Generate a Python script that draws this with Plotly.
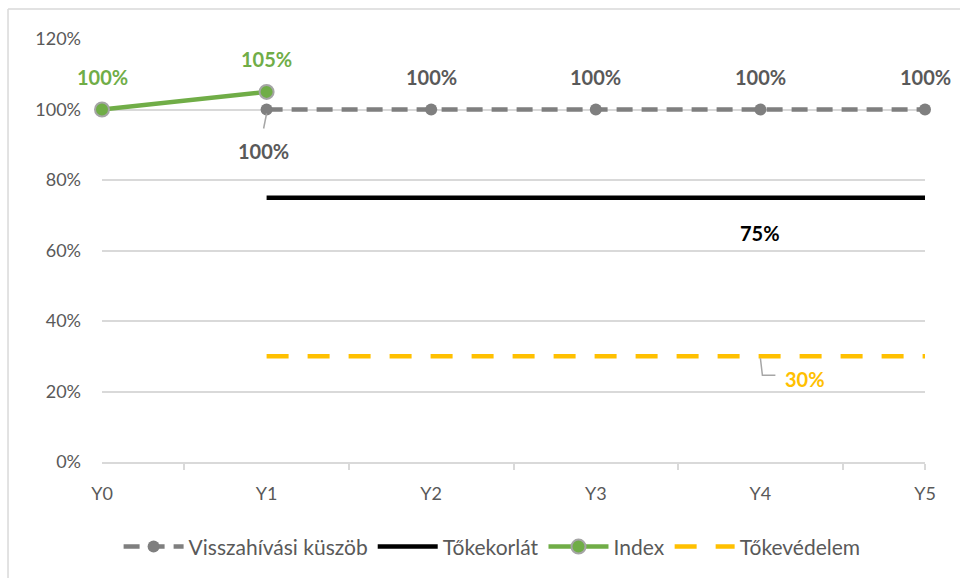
import plotly.graph_objects as go

categories = ["Y0", "Y1", "Y2", "Y3", "Y4", "Y5"]
x_pos = [0, 1, 2, 3, 4, 5]

visszahivasi = [None, 1.00, 1.00, 1.00, 1.00, 1.00]
tokekorlat = [None, 0.75, 0.75, 0.75, 0.75, 0.75]
index_vals = [1.00, 1.05, None, None, None, None]
tokevedelem = [None, 0.30, 0.30, 0.30, 0.30, 0.30]

GREY = "#7F7F7F"
GREEN = "#70AD47"
YELLOW = "#FFC000"
TXT = "#595959"
FONT = "Lato, Open Sans, sans-serif"

fig = go.Figure()
fig.add_trace(go.Scatter(
    x=x_pos, y=visszahivasi, name="Visszahívási küszöb", mode="lines+markers",
    line=dict(color=GREY, width=4.5, dash="16px,9px"),
    marker=dict(color=GREY, size=12, line=dict(width=0)), cliponaxis=False,
))
fig.add_trace(go.Scatter(
    x=x_pos, y=tokekorlat, name="Tőkekorlát", mode="lines",
    line=dict(color="#000000", width=4.5), cliponaxis=False,
))
fig.add_trace(go.Scatter(
    x=x_pos, y=index_vals, name="Index", mode="lines+markers",
    line=dict(color=GREEN, width=4.5),
    marker=dict(color=GREEN, size=14, line=dict(color="#A5A5A5", width=2)), cliponaxis=False,
))
fig.add_trace(go.Scatter(
    x=x_pos, y=tokevedelem, name="Tőkevédelem", mode="lines",
    line=dict(color=YELLOW, width=4.5, dash="22px,19px"), cliponaxis=False,
))

annotations = []
shapes = []


def lab(x, y, text, color, yshift, xshift=0):
    annotations.append(dict(
        x=x, y=y, xref="x", yref="y", text="<b>%s</b>" % text, showarrow=False,
        font=dict(family=FONT, size=20, color=color), yshift=yshift, xshift=xshift,
    ))


for i, v in enumerate(index_vals):
    if v is not None:
        lab(x_pos[i], v, "%d%%" % round(v * 100), GREEN, 33)

for i, v in enumerate(visszahivasi):
    if v is None:
        continue
    if i == 1:
        lab(x_pos[i], v, "%d%%" % round(v * 100), TXT, -41, -3)
        shapes.append(dict(type="line", xref="x", yref="y", xsizemode="pixel", ysizemode="pixel",
                           xanchor=x_pos[i], yanchor=v, x0=0, y0=-4, x1=-3, y1=-19,
                           line=dict(color="#A6A6A6", width=1.5)))
    else:
        lab(x_pos[i], v, "%d%%" % round(v * 100), TXT, 33)

lab(x_pos[4], tokekorlat[4], "%d%%" % round(tokekorlat[4] * 100), "#000000", -35)
lab(x_pos[4], tokevedelem[4], "%d%%" % round(tokevedelem[4] * 100), YELLOW, -23, 45)
shapes.append(dict(type="path", xref="x", yref="y", xsizemode="pixel", ysizemode="pixel",
                   xanchor=x_pos[4], yanchor=tokevedelem[4],
                   path="M 0,-2 L 2,-19 L 15,-19",
                   line=dict(color="#A6A6A6", width=1.5)))

# chart area border (top and left visible)
shapes.append(dict(type="line", xref="paper", yref="paper", x0=-0.1142, x1=-0.1142,
                   y0=1.0708, y1=-0.30, line=dict(color="#D9D9D9", width=1.5)))
shapes.append(dict(type="line", xref="paper", yref="paper", x0=-0.1142, x1=1.05,
                   y0=1.0708, y1=1.0708, line=dict(color="#D9D9D9", width=1.5)))

fig.update_layout(
    width=960, height=578,
    margin=dict(l=102, r=35, t=39, b=115),
    paper_bgcolor="white", plot_bgcolor="white",
    font=dict(family=FONT, size=18, color=TXT),
    showlegend=True,
    legend=dict(orientation="h", x=0.474, xanchor="center", y=-0.198, yanchor="middle",
                font=dict(family=FONT, size=21, color=TXT), itemwidth=60,
                traceorder="normal"),
    annotations=annotations,
    shapes=shapes,
)
fig.update_xaxes(
    range=[0, 5], tickvals=x_pos, ticktext=categories, ticks="",
    showgrid=False, zeroline=False, showline=True, linecolor="#D9D9D9", linewidth=1.5,
    ticklabelstandoff=15, tickfont=dict(family=FONT, size=18, color=TXT),
    minor=dict(tickvals=[0.5, 1.5, 2.5, 3.5, 4.5, 5], ticks="outside", ticklen=6,
               tickcolor="#D9D9D9", tickwidth=1.5, showgrid=False),
)
fig.update_yaxes(
    range=[0, 1.2], dtick=0.2, tickformat=".0%", showgrid=True, gridcolor="#D9D9D9",
    gridwidth=1.5, zeroline=False, showline=False, ticks="",
    ticklabelstandoff=20, tickfont=dict(family=FONT, size=18, color=TXT),
)

fig.write_html("out.html")
